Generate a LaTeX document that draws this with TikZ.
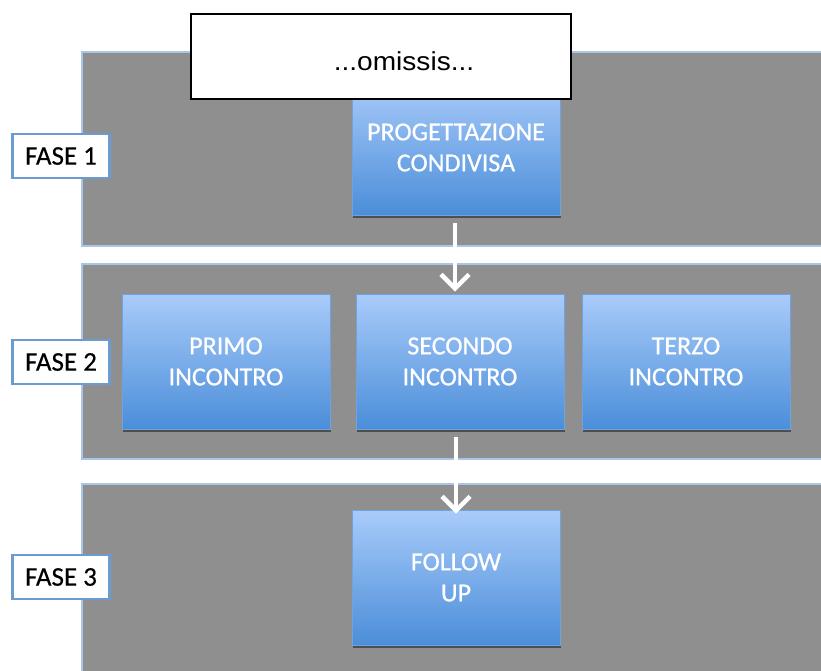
\documentclass[tikz,border=0pt]{standalone}
\usepackage{fontspec}
\setmainfont{Carlito}
\newfontfamily\carlitofont[FakeBold=0.7]{Carlito}
\newfontfamily\labelfont[FakeBold=0.4]{Carlito}
\newfontfamily\arialfont{Liberation Sans}
\usetikzlibrary{arrows.meta,shadows}
\definecolor{bandgray}{HTML}{8F8F8F}
\definecolor{bandedge}{HTML}{A9C6E6}
\definecolor{boxtop}{HTML}{A9CBFA}
\definecolor{boxbot}{HTML}{4B8ED9}
\definecolor{boxedge}{HTML}{6FA2DE}
\definecolor{labeledge}{HTML}{6C9BD2}
\tikzset{
  band/.style={fill=bandgray, draw=bandedge, line width=1.5pt, inner sep=0pt, anchor=north west},
  bluebox/.style={top color=boxtop, bottom color=boxbot, draw=boxedge, line width=0.8pt,
    inner sep=0pt, minimum width=208pt, minimum height=135pt, align=center, text=white,
    font=\carlitofont\fontsize{26}{31}\selectfont,
    drop shadow={shadow xshift=1pt, shadow yshift=-3pt, opacity=0.45, fill=black}},
  faselabel/.style={fill=white, draw=labeledge, line width=2.5pt, inner sep=0pt,
    minimum width=97pt, minimum height=44pt, font=\labelfont\fontsize{27}{30}\selectfont, text=black},
  omissisbox/.style={fill=white, draw=black, line width=1.8pt, inner sep=0pt,
    minimum width=380pt, minimum height=85pt},
  omissistext/.style={inner sep=0pt, anchor=base, font=\arialfont\fontsize{26}{30}\selectfont},
  whitearrow/.style={draw=white, line width=4.5pt, -{Straight Barb[length=14pt,width=28pt,line width=4.5pt]}}
}
\begin{document}
\begin{tikzpicture}[x=1pt,y=-1pt]
\useasboundingbox (0,0) rectangle (821,670);
\clip (0,0) rectangle (821,670);
\fill[white] (0,0) rectangle (821,670);
% bands
\node[band, minimum width=760pt, minimum height=194pt] (band1) at (81,51) {};
\node[band, minimum width=760pt, minimum height=195pt] (band2) at (81,263) {};
\node[band, minimum width=760pt, minimum height=200pt] (band3) at (81,483) {};
% phase labels
\node[faselabel] (f1) at (61,156) {FASE 1};
\node[faselabel] (f2) at (61,362) {FASE 2};
\node[faselabel] (f3) at (61,577) {FASE 3};
% boxes
\node[bluebox] (prog) at (456,147.5) {PROGETTAZIONE\\CONDIVISA};
\node[bluebox] (primo) at (226,361.5) {PRIMO\\INCONTRO};
\node[bluebox] (sec) at (460,361.5) {SECONDO\\INCONTRO};
\node[bluebox] (terzo) at (686,361.5) {TERZO\\INCONTRO};
\node[bluebox] (fol) at (456,577.5) {FOLLOW\\UP};
% arrows
\draw[whitearrow] ([xshift=-1pt,yshift=-8pt]prog.south) -- ([xshift=-5pt,yshift=2pt]sec.north);
\draw[whitearrow] ([xshift=-4pt,yshift=-8pt]sec.south) -- ([yshift=-4pt]fol.north);
% omissis overlay
\node[omissisbox] (om) at (381,56.5) {};
\node[omissistext] (omtext) at (404,70) {\scalebox{1.08}[1]{...omissis...}};
\end{tikzpicture}
\end{document}
